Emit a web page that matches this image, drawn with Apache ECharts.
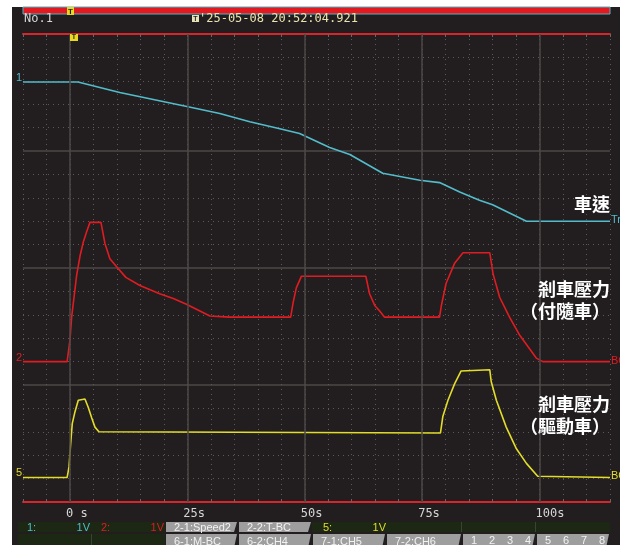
<!DOCTYPE html>
<html>
<head>
<meta charset="utf-8">
<script src="https://cdn.jsdelivr.net/npm/echarts@6/dist/echarts.min.js"></script>
<style>
  html, body { margin: 0; padding: 0; background: #ffffff; }
  #screen { position: absolute; left: 12px; top: 7px; width: 608px; height: 538px; background: #221e1f; }
  #chart { position: absolute; left: 0; top: 0; width: 620px; height: 545px; }
</style>
</head>
<body>
<div id="screen"></div>
<div id="chart"></div>
<script>
// Time axis (s) and trace levels (screen divisions, 0 = bottom edge, 4 = top edge)
const timeTicks = [0, 25, 50, 75, 100];
const levelLines = [1, 2, 3];

// CH1: vehicle speed
const speedTime  = [-10, 1.7, 10.6, 24.9, 31.9, 38.3, 44.7, 48.9, 55.3, 59.6, 66.6, 74.5, 78.7, 83.0, 87.2, 90.0, 97.2, 115];
const speedLevel = [3.59, 3.59, 3.50, 3.38, 3.32, 3.25, 3.19, 3.15, 3.03, 2.97, 2.81, 2.75, 2.73, 2.65, 2.58, 2.54, 2.40, 2.40];

// CH2: brake pressure, trailer car
const trailerTime  = [-10, -0.6, 0, 0.36, 1.43, 2.13, 2.83, 3.55, 4.26, 6.6, 7.45, 8.5, 9.94, 11.9, 14.9, 19.1, 22.0, 24.8, 29.8, 34.0,
                      47.0, 47.5, 48.2, 49.3, 63.0, 63.8, 64.9, 66.0, 67.0, 78.7, 79.1, 80.1, 81.9, 83.7, 89.4, 90.1, 91.5, 93.6, 95.7, 99.3, 100.7, 115];
const trailerLevel = [1.20, 1.20, 1.385, 1.58, 1.94, 2.10, 2.22, 2.31, 2.39, 2.39, 2.21, 2.08, 2.01, 1.92, 1.85, 1.78, 1.74, 1.69, 1.59, 1.58,
                      1.58, 1.70, 1.83, 1.93, 1.93, 1.78, 1.68, 1.63, 1.58, 1.58, 1.68, 1.87, 2.04, 2.13, 2.13, 1.95, 1.75, 1.58, 1.43, 1.23, 1.20, 1.20];

// CH5: brake pressure, motor car
const motorTime  = [-10, -0.6, -0.2, 0.15, 0.49, 1.06, 1.77, 3.19, 3.89, 4.62, 5.32, 6.17, 78.9, 79.4, 80.5, 81.9, 83.3, 89.4, 89.7, 90.8, 92.9, 95.0, 97.2, 99.6, 115];
const motorLevel = [0.21, 0.21, 0.30, 0.50, 0.67, 0.77, 0.87, 0.88, 0.81, 0.72, 0.64, 0.60, 0.59, 0.73, 0.87, 1.01, 1.12, 1.13, 1.03, 0.87, 0.64, 0.46, 0.33, 0.22, 0.21];

const CYAN = '#52bccb', RED = '#e01c22', YELLOW = '#e2dc2a';
const MONO = 'DejaVu Sans Mono', SANS = 'Liberation Sans', CJK = 'Noto Sans CJK TC';

const zip = (t, v) => t.map((x, i) => [x, v[i]]);

const channels = [
  { name: '車速', data: zip(speedTime, speedLevel), color: CYAN, left: '1', right: 'Tr' },
  { name: '剎車壓力（付隨車）', data: zip(trailerTime, trailerLevel), color: RED, left: '2', right: 'BC' },
  { name: '剎車壓力（驅動車）', data: zip(motorTime, motorLevel), color: YELLOW, left: '5', right: 'BC' }
];

const chart = echarts.init(document.getElementById('chart'));

const axisBase = { type: 'value', min: -10, max: 115, interval: 5 };

const option = {
  animation: false,
  backgroundColor: 'transparent',
  grid: { left: 23, right: 10, top: 34, bottom: 43 },
  xAxis: [
    Object.assign({}, axisBase, {
      position: 'bottom',
      axisLine: { show: true, onZero: false, lineStyle: { color: '#d8252b', width: 2 } },
      axisTick: { show: true, inside: true, length: 3, lineStyle: { color: '#6b6666' } },
      axisLabel: {
        customValues: timeTicks,
        formatter: v => (v === 0 ? '0 s' : v + 's'),
        color: '#d6d6d6', fontFamily: MONO, fontSize: 12,
        align: 'left', margin: 6, padding: [0, 0, 0, -4]
      },
      splitLine: { show: true, lineStyle: { color: '#5e5959', width: 1, type: [1, 4] } }
    }),
    Object.assign({}, axisBase, {
      position: 'top',
      axisLine: { show: true, onZero: false, lineStyle: { color: '#d8252b', width: 2 } },
      axisTick: { show: true, inside: true, length: 3, lineStyle: { color: '#6b6666' } },
      axisLabel: { show: false },
      splitLine: { show: false }
    })
  ],
  yAxis: {
    type: 'value', min: 0, max: 4, interval: 1,
    axisLine: { show: false }, axisTick: { show: false }, axisLabel: { show: false },
    splitLine: { show: true, lineStyle: { color: '#4c4848', width: 1.5 } },
    minorTick: { show: false, splitNumber: 5 },
    minorSplitLine: { show: true, lineStyle: { color: '#5e5959', width: 1, type: [1, 4] } }
  },
  series: [
    {
      type: 'line', data: [], z: 1, silent: true,
      markLine: {
        silent: true, symbol: 'none', animation: false,
        label: { show: false },
        lineStyle: { color: '#4c4848', width: 1.5, type: 'solid' },
        data: timeTicks.map(t => ({ xAxis: t }))
      }
    }
  ].concat(channels.map(ch => ({
    name: ch.name, type: 'line', data: ch.data, z: 3,
    showSymbol: false, symbol: 'none', silent: true,
    lineStyle: { color: ch.color, width: 1.6 }
  })))
};

chart.setOption(option);

// Screen furniture: header bar, timestamp, trigger marks, captions, channel footer
function txt(x, y, s, fill, font, align) {
  return { type: 'text', x: x, y: y, silent: true, z: 10,
    style: { text: s, fill: fill, font: font, textAlign: align || 'left', textVerticalAlign: 'middle' } };
}
function box(x, y, w, h, fill, extra) {
  return { type: 'rect', silent: true, z: 9, shape: { x: x, y: y, width: w, height: h },
    style: Object.assign({ fill: fill }, extra || {}) };
}

const gfx = [];
// header record bar
gfx.push(box(23, 7, 587, 7, '#e3191f', { stroke: '#4fb3c4', lineWidth: 1 }));
gfx.push(box(67, 7, 7, 8, '#e8d820'));
gfx.push(txt(70.5, 11.5, 'T', '#231f20', 'bold 8px ' + SANS, 'center'));
gfx.push(txt(24, 19, 'No.1', '#d6d6d6', '12px ' + MONO));
gfx.push(box(192, 15, 7, 7, '#e8e2b8'));
gfx.push(txt(195.5, 18.8, 'T', '#231f20', 'bold 7px ' + SANS, 'center'));
gfx.push(txt(199, 19, "'25-05-08 20:52:04.921", '#ece4b0', '12px ' + MONO));
// trigger position mark
gfx.push(box(70, 34, 8, 7, '#e8d820'));
gfx.push(txt(74, 37.5, 'T', '#231f20', 'bold 7px ' + SANS, 'center'));

// captions
const capFont = 'bold 18px "' + CJK + '"';
gfx.push(txt(610, 204, '車速', '#ffffff', capFont, 'right'));
gfx.push(txt(610, 289, '剎車壓力', '#ffffff', capFont, 'right'));
gfx.push(txt(610, 311, '（付隨車）', '#ffffff', capFont, 'right'));
gfx.push(txt(610, 404, '剎車壓力', '#ffffff', capFont, 'right'));
gfx.push(txt(610, 426, '（驅動車）', '#ffffff', capFont, 'right'));

// footer: channel settings row and trace tabs
const GREEN = '#1d2814', TAB = '#9e9e9e', TABTXT = '#f2f2f2';
const foot = '11px ' + SANS;
function tab(x0, x1, y0, y1, label) {
  gfx.push({ type: 'polygon', silent: true, z: 9,
    shape: { points: [[x0 + 1, y0], [x1 - 1, y0], [x1 - 4, y1], [x0 + 1, y1]] },
    style: { fill: TAB } });
  gfx.push(txt(x0 + 9, (y0 + y1) / 2 + 0.5, label, TABTXT, foot));
}
const r1a = 522, r1b = 532, r2a = 534, r2b = 548;
gfx.push(box(18, r1a, 147, r1b - r1a, GREEN));
gfx.push(txt(27, 527.5, '1:', CYAN, foot));
gfx.push(txt(90, 527.5, '1V', CYAN, foot, 'right'));
gfx.push(txt(101, 527.5, '2:', RED, foot));
gfx.push(txt(164, 527.5, '1V', RED, foot, 'right'));
tab(165, 238, r1a, r1b, '2-1:Speed2');
tab(238, 312, r1a, r1b, '2-2:T-BC');
gfx.push(box(312, r1a, 298, r1b - r1a, GREEN));
gfx.push(txt(323, 527.5, '5:', YELLOW, foot));
gfx.push(txt(386, 527.5, '1V', YELLOW, foot, 'right'));
gfx.push(box(461, r1a, 1, r1b - r1a, '#3a4530'));
gfx.push(box(535, r1a, 1, r1b - r1a, '#3a4530'));

gfx.push(box(18, r2a, 147, r2b - r2a, GREEN));
gfx.push(box(91, r2a, 1, r2b - r2a, '#3a4530'));
tab(165, 238, r2a, r2b, '6-1:M-BC');
tab(238, 312, r2a, r2b, '6-2:CH4');
tab(312, 386, r2a, r2b, '7-1:CH5');
tab(386, 462, r2a, r2b, '7-2:CH6');
tab(462, 536, r2a, r2b, '');
tab(536, 610, r2a, r2b, '');
['1', '2', '3', '4'].forEach((d, i) => gfx.push(txt(471 + i * 18, 541, d, TABTXT, foot)));
['5', '6', '7', '8'].forEach((d, i) => gfx.push(txt(545 + i * 18, 541, d, TABTXT, foot)));

// channel tags at both ends of each trace, placed through the axes
channels.forEach(ch => {
  const first = chart.convertToPixel({ gridIndex: 0 }, ch.data[0]);
  const last = chart.convertToPixel({ gridIndex: 0 }, ch.data[ch.data.length - 1]);
  gfx.push(txt(first[0] - 1, first[1] - 4, ch.left, ch.color, '11px ' + SANS, 'right'));
  gfx.push(txt(last[0] + 1, last[1] - 1, ch.right, ch.color, '11px ' + SANS));
});

chart.setOption({ graphic: { elements: gfx } });
</script>
</body>
</html>
